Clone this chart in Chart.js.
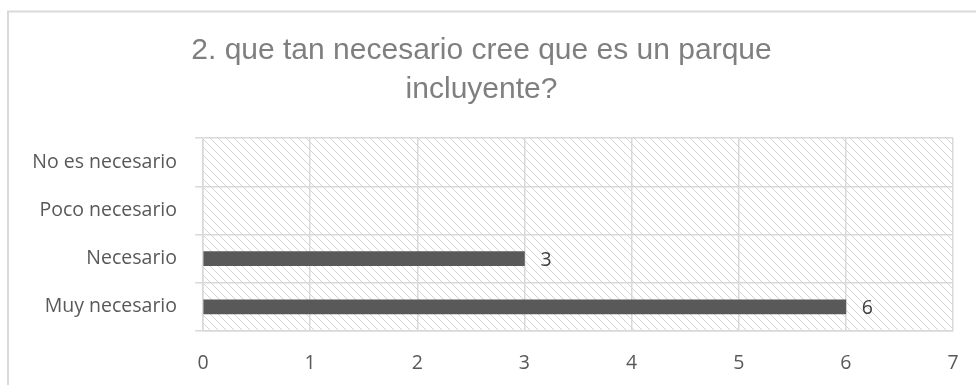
<!DOCTYPE html>
<html lang="es">
<head>
<meta charset="utf-8">
<title>Parque incluyente</title>
<script src="https://cdn.jsdelivr.net/npm/chart.js@4/dist/chart.umd.min.js"></script>
<style>
    html, body { margin: 0; padding: 0; background: #ffffff; }
    #wrap { width: 976px; height: 385px; position: relative; }
</style>
</head>
<body>
<div id="wrap"><canvas id="encuesta"></canvas></div>
<script>
// --- datos ---
const titulo = ['2. que tan necesario cree que es un parque', 'incluyente?'];
const categorias = ['No es necesario', 'Poco necesario', 'Necesario', 'Muy necesario'];
const respuestas = [0, 0, 3, 6];
const ejeMin = 0;
const ejeMax = 7;

const GRIS_LINEA = '#d9d9d9';
const GRIS_BARRA = '#595959';

// trama diagonal del fondo del área de trazado
function crearTrama() {
    const c = document.createElement('canvas');
    c.width = 8;
    c.height = 8;
    const g = c.getContext('2d');
    g.fillStyle = '#ffffff';
    g.fillRect(0, 0, 8, 8);
    g.fillStyle = '#d4d4d4';
    for (let i = 0; i < 8; i++) {
        g.fillRect(i, i, 1, 1);
    }
    return c;
}

const fondoPlugin = {
    id: 'fondo',
    beforeDraw(chart) {
        const { ctx, chartArea: a } = chart;
        ctx.save();
        // marco exterior del gráfico
        ctx.strokeStyle = GRIS_LINEA;
        ctx.lineWidth = 2;
        ctx.strokeRect(8, 11.5, 2000, 2000);
        // trama del área de trazado
        ctx.fillStyle = ctx.createPattern(crearTrama(), 'repeat');
        ctx.fillRect(a.left, a.top, a.right - a.left, a.bottom - a.top);
        ctx.restore();
    }
};

// etiquetas de valor a la derecha de cada barra
const etiquetasPlugin = {
    id: 'etiquetas',
    afterDatasetsDraw(chart) {
        const { ctx } = chart;
        const meta = chart.getDatasetMeta(0);
        ctx.save();
        ctx.font = '19.5px "Open Sans"';
        ctx.fillStyle = '#404040';
        ctx.textAlign = 'left';
        ctx.textBaseline = 'middle';
        meta.data.forEach((bar, i) => {
            const v = respuestas[i];
            if (!v) return;
            ctx.fillText(String(v), bar.x + 16, bar.y + 2);
        });
        ctx.restore();
    }
};

const ctx = document.getElementById('encuesta').getContext('2d');
new Chart(ctx, {
    type: 'bar',
    data: {
        labels: categorias,
        datasets: [{
            data: respuestas,
            // las categorías sin respuestas no dejan marca
            backgroundColor: c => (respuestas[c.dataIndex] ? GRIS_BARRA : 'rgba(0,0,0,0)'),
            borderWidth: 0,
            barThickness: 14
        }]
    },
    options: {
        indexAxis: 'y',
        responsive: true,
        maintainAspectRatio: false,
        animation: false,
        layout: { padding: { left: 10, right: 23, top: 0, bottom: 0 } },
        scales: {
            x: {
                min: ejeMin,
                max: ejeMax,
                ticks: {
                    stepSize: 1,
                    color: '#595959',
                    font: { family: 'Open Sans', size: 19.5 },
                    padding: 21
                },
                grid: { color: GRIS_LINEA, lineWidth: 1.5, drawTicks: false },
                border: { color: GRIS_LINEA, width: 1.5 },
                afterFit(scale) {
                    scale.height = 54;
                    scale.paddingLeft = 0;
                    scale.paddingRight = 0;
                }
            },
            y: {
                ticks: {
                    color: '#595959',
                    font: { family: 'Open Sans', size: 19.5 },
                    padding: 18
                },
                grid: { color: GRIS_LINEA, lineWidth: 1.5, tickLength: 8, offset: true },
                border: { color: GRIS_LINEA, width: 1.5 },
                afterFit(scale) {
                    scale.width = 193;
                    scale.paddingTop = 0;
                    scale.paddingBottom = 0;
                }
            }
        },
        plugins: {
            legend: { display: false },
            tooltip: { enabled: false },
            title: {
                display: true,
                text: titulo,
                color: '#7f7f7f',
                font: { family: 'Liberation Sans', size: 30, weight: 'normal', lineHeight: 1.3 },
                padding: { top: 31, bottom: 29 }
            }
        }
    },
    plugins: [fondoPlugin, etiquetasPlugin]
});
</script>
</body>
</html>
